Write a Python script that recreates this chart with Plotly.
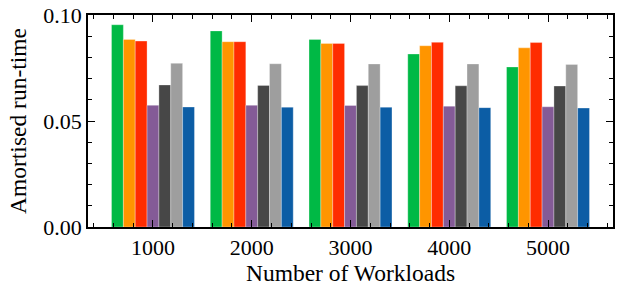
import plotly.graph_objects as go

workloads = [1000, 2000, 3000, 4000, 5000]
tick_labels = ["1000", "2000", "3000", "4000", "5000"]

series_names = ["S1", "S2", "S3", "S4", "S5", "S6", "S7"]
s1 = [0.0954, 0.0925, 0.0885, 0.0816, 0.0755]
s2 = [0.0885, 0.0874, 0.0866, 0.0855, 0.0845]
s3 = [0.0877, 0.0874, 0.0866, 0.0871, 0.0870]
s4 = [0.0574, 0.0574, 0.0573, 0.0570, 0.0567]
s5 = [0.0670, 0.0668, 0.0667, 0.0666, 0.0665]
s6 = [0.0772, 0.0770, 0.0769, 0.0769, 0.0767]
s7 = [0.0566, 0.0565, 0.0565, 0.0563, 0.0561]
series = [s1, s2, s3, s4, s5, s6, s7]
colors = ["#00B945", "#FF9500", "#FF2C00", "#845B97", "#474747", "#9E9E9E", "#0C5DA5"]

fig = go.Figure()
for name, vals, c in zip(series_names, series, colors):
    fig.add_trace(go.Bar(x=workloads, y=vals, name=name, marker_color=c,
                         marker_line_width=0.5, marker_line_color="rgba(255,255,255,0.6)"))

font = "Liberation Serif"
axis_common = dict(showline=True, linecolor="#000000", linewidth=1.5, mirror="ticks",
                   ticks="inside", ticklen=7, tickwidth=1, tickcolor="#000000",
                   showgrid=False, zeroline=False,
                   tickfont=dict(family=font, size=22, color="black"))

fig.update_xaxes(range=[342, 5658], tickmode="array", tickvals=workloads, ticktext=tick_labels,
                 minor=dict(tickmode="linear", dtick=200, ticklen=4, tickcolor="#000000", tickwidth=1, ticks="inside"),
                 title=dict(text="Number of Workloads", font=dict(family=font, size=23.5, color="black"), standoff=3),
                 **axis_common)
fig.update_yaxes(range=[0, 0.1], dtick=0.05, tickformat=".2f",
                 minor=dict(dtick=0.01, ticklen=4, tickcolor="#000000", tickwidth=1, ticks="inside"),
                 title=dict(text="Amortised run-time", font=dict(family=font, size=23.5, color="black"), standoff=10),
                 **axis_common)

fig.update_layout(width=622, height=296, barmode="group", bargap=0.16, bargroupgap=0,
                  showlegend=False, plot_bgcolor="white", paper_bgcolor="white", template="simple_white",
                  margin=dict(l=88, r=9, t=15, b=69, autoexpand=False), font=dict(family=font))
fig.write_html("out.html", post_script="document.body.style.margin='0';", config={"displayModeBar": False})
